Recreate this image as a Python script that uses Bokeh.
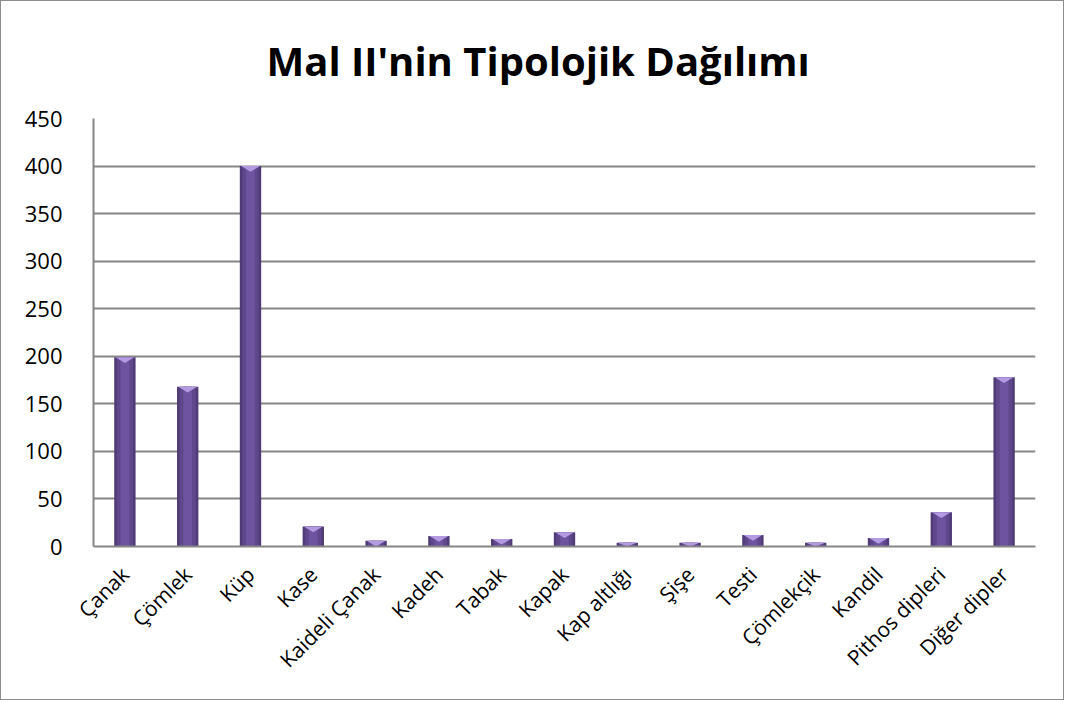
from bokeh.plotting import figure
from bokeh.models import FixedTicker, Range1d, ColumnDataSource
from bokeh.embed import file_html
from bokeh.resources import INLINE
import math

categories = ["Çanak", "Çömlek", "Küp", "Kase", "Kaideli Çanak", "Kadeh", "Tabak",
              "Kapak", "Kap altlığı", "Şişe", "Testi", "Çömlekçik", "Kandil",
              "Pithos dipleri", "Diğer dipler"]
values = [199, 168, 400, 21, 6, 11, 8, 15, 4, 4, 12, 4, 9, 36, 178]
y_ticks = [0, 50, 100, 150, 200, 250, 300, 350, 400, 450]
title_text = "Mal II'nin Tipolojik Dağılımı"

n = len(categories)
xs = [i + 0.5 for i in range(n)]

p = figure(width=1064, height=700, output_backend="svg", toolbar_location=None,
           x_range=Range1d(0, n), y_range=Range1d(0, 450),
           min_border_left=92, min_border_right=30, min_border_top=117, min_border_bottom=155)
p.styles = {"border": "1.5px solid #8c8c8c", "box-sizing": "border-box"}

p.title.text = title_text
p.title.text_font = "Open Sans"
p.title.text_font_size = "40px"
p.title.text_font_style = "bold"
p.title.align = "left"
p.title.vertical_align = "top"
p.title.text_color = "#000000"
p.title.standoff = 58
p.title.offset = 173

p.outline_line_color = None
p.xgrid.grid_line_color = None
p.ygrid.grid_line_color = "#868686"
p.ygrid.grid_line_width = 2
p.yaxis.ticker = FixedTicker(ticks=y_ticks)
p.xaxis.ticker = FixedTicker(ticks=xs)
p.xaxis.major_label_overrides = {x: c for x, c in zip(xs, categories)}
p.xaxis.major_label_orientation = math.pi / 4

for ax in (p.xaxis, p.yaxis):
    ax.axis_line_color = "#868686"
    ax.axis_line_width = 2
    ax.major_label_text_font = "Open Sans"
    ax.major_label_text_color = "#000000"
    ax.minor_tick_line_color = None
    ax.major_tick_line_color = None
p.yaxis.major_label_text_font_size = "22px"
p.xaxis.major_label_text_font_size = "21px"
p.yaxis.major_label_standoff = 25
p.xaxis.major_label_standoff = 18

src = ColumnDataSource(dict(x=xs, top=values))
p.vbar(x="x", top="top", width=0.34, bottom=0, source=src, fill_color="#503b77", line_color=None)
p.vbar(x="x", top="top", width=0.26, bottom=0, source=src, fill_color="#5f478c", line_color=None)
p.vbar(x="x", top="top", width=0.14, bottom=0, source=src, fill_color="#6e54a0", line_color=None)

# bevelled top cap
cap_x, cap_y = [], []
for x, v in zip(xs, values):
    d = min(6, v)
    cap_x.append([x - 0.15, x + 0.15, x])
    cap_y.append([v, v, v - d])
p.patches(cap_x, cap_y, fill_color="#b59ae2", line_color=None)

open("out.html", "w").write(file_html(p, INLINE))
